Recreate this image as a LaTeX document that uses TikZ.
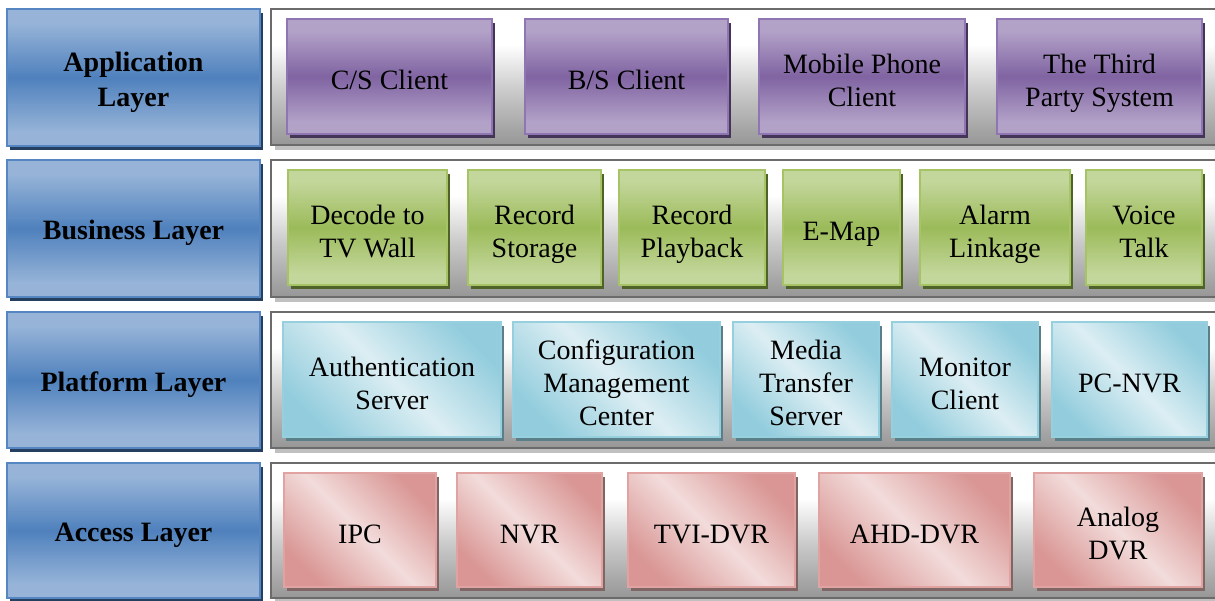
\documentclass[tikz,border=0pt]{standalone}
\usepackage{fontspec}
\setmainfont{Liberation Serif}
\usetikzlibrary{shadows}
\definecolor{laylight}{HTML}{97B4D8}
\definecolor{laydark}{HTML}{4F81BD}
\definecolor{layborder}{HTML}{5686C1}
\definecolor{layshadow}{HTML}{243F60}
\definecolor{purlight}{HTML}{B3A2C8}
\definecolor{purdark}{HTML}{8064A2}
\definecolor{purborder}{HTML}{8F75B2}
\definecolor{purshadow}{HTML}{433458}
\definecolor{grnlight}{HTML}{C3D69B}
\definecolor{grndark}{HTML}{9BBB59}
\definecolor{grnborder}{HTML}{A6C465}
\definecolor{grnshadow}{HTML}{4F6228}
\definecolor{cyalight}{HTML}{DCEEF3}
\definecolor{cyadark}{HTML}{93CDDD}
\definecolor{cyaborder}{HTML}{96CFDE}
\definecolor{cyashadow}{HTML}{5B7F88}
\definecolor{pnklight}{HTML}{F2DCDB}
\definecolor{pnkdark}{HTML}{D99694}
\definecolor{pnkborder}{HTML}{E0A3A1}
\definecolor{pnkshadow}{HTML}{806565}
\definecolor{panbot}{HTML}{969696}
\definecolor{panmid}{HTML}{CACACA}
\definecolor{panborder}{HTML}{6B6B6B}
\definecolor{panshadow}{HTML}{C0C0C0}
\colorlet{glasslight}{laylight}
\colorlet{glassdark}{laydark}
\newcommand{\boxtop}{\rule{0pt}{18pt}}
\newcommand{\boxbot}{\rule[-5pt]{0pt}{5pt}}
\newcommand{\laytop}{\rule{0pt}{16pt}}
\pgfdeclareverticalshading[glasslight,glassdark]{glass}{100bp}{color(0bp)=(glasslight); color(30bp)=(glasslight); color(50bp)=(glassdark); color(70bp)=(glasslight); color(100bp)=(glasslight)}
\pgfdeclareverticalshading{panelsh}{100bp}{color(0bp)=(panbot); color(25bp)=(panbot); color(45bp)=(panmid); color(62bp)=(white); color(100bp)=(white)}
\tikzset{
  boxbase/.style={rectangle, inner sep=0pt, align=center, line width=1pt,
    font=\fontsize{14}{16.5}\selectfont},
  glassy/.style 2 args={/utils/exec={\colorlet{glasslight}{#1}\colorlet{glassdark}{#2}}, shading=glass},
  diag/.style 2 args={shading=axis, top color=#2, bottom color=#2, middle color=#1, shading angle=-45},
  layerbox/.style={boxbase, draw=layborder, glassy={laylight}{laydark},
    drop shadow={shadow xshift=1.5pt, shadow yshift=-2pt, fill=layshadow, opacity=1},
    font=\fontsize{14}{17.5}\selectfont\bfseries},
  panel/.style={rectangle, inner sep=0pt, draw=panborder, line width=1pt, shading=panelsh,
    drop shadow={shadow xshift=2pt, shadow yshift=-2.5pt, fill=panshadow, opacity=1}},
  appbox/.style={boxbase, draw=purborder, glassy={purlight}{purdark},
    drop shadow={shadow xshift=1.5pt, shadow yshift=-2pt, fill=purshadow, opacity=1}},
  busbox/.style={boxbase, draw=grnborder, glassy={grnlight}{grndark},
    drop shadow={shadow xshift=1.5pt, shadow yshift=-2pt, fill=grnshadow, opacity=1}},
  platbox/.style={boxbase, draw=cyaborder, diag={cyalight}{cyadark},
    drop shadow={shadow xshift=1.5pt, shadow yshift=-2pt, fill=cyashadow, opacity=1}},
  accbox/.style={boxbase, draw=pnkborder, diag={pnklight}{pnkdark},
    drop shadow={shadow xshift=1.5pt, shadow yshift=-2pt, fill=pnkshadow, opacity=1}},
}
\begin{document}
\begin{tikzpicture}[x=0.5pt, y=-0.5pt]
\useasboundingbox (0,0) rectangle (1215,600);
% left layer labels
\node[layerbox, minimum width=126.5pt, minimum height=68.5pt] (lapp) at (133.5,77.5) {\laytop Application\\Layer\boxbot};
\node[layerbox, minimum width=126.5pt, minimum height=68.5pt] (lbus) at (133.5,228.5) {\laytop Business Layer\boxbot};
\node[layerbox, minimum width=126.5pt, minimum height=68pt] (lplat) at (133.5,380) {\laytop Platform Layer\boxbot};
\node[layerbox, minimum width=126.5pt, minimum height=67.5pt] (lacc) at (133.5,530.5) {\laytop Access Layer\boxbot};
% panels
\node[panel, minimum width=475.5pt, minimum height=68pt] (papp) at (746.5,77) {};
\node[panel, minimum width=475.5pt, minimum height=68.5pt] (pbus) at (746.5,228.5) {};
\node[panel, minimum width=475.5pt, minimum height=68pt] (pplat) at (746.5,380) {};
\node[panel, minimum width=475.5pt, minimum height=67.5pt] (pacc) at (746.5,530.5) {};
% application layer
\node[appbox, minimum width=102.5pt, minimum height=57.5pt] (cs) at (389.5,76.5) {\boxtop C/S Client\boxbot};
\node[appbox, minimum width=101.5pt, minimum height=57.5pt] (bs) at (626.5,76.5) {\boxtop B/S Client\boxbot};
\node[appbox, minimum width=103pt, minimum height=57.5pt] (mob) at (862,76.5) {\boxtop Mobile Phone\\Client\boxbot};
\node[appbox, minimum width=102.5pt, minimum height=57.5pt] (third) at (1099.5,76.5) {\boxtop The Third\\Party System\boxbot};
% business layer
\node[busbox, minimum width=79.5pt, minimum height=57.5pt] (dec) at (367.5,227.5) {\boxtop Decode to\\TV Wall\boxbot};
\node[busbox, minimum width=66.5pt, minimum height=57.5pt] (rs) at (534.5,227.5) {\boxtop Record\\Storage\boxbot};
\node[busbox, minimum width=73pt, minimum height=57.5pt] (rp) at (692,227.5) {\boxtop Record\\Playback\boxbot};
\node[busbox, minimum width=58.5pt, minimum height=57.5pt] (emap) at (841.5,227.5) {\boxtop E-Map\boxbot};
\node[busbox, minimum width=75pt, minimum height=57.5pt] (alarm) at (995,227.5) {\boxtop Alarm\\Linkage\boxbot};
\node[busbox, minimum width=58pt, minimum height=57.5pt] (voice) at (1144,227.5) {\boxtop Voice\\Talk\boxbot};
% platform layer
\node[platbox, minimum width=109pt, minimum height=57.5pt] (auth) at (392,379.5) {\boxtop Authentication\\Server\boxbot};
\node[platbox, minimum width=103.5pt, minimum height=57.5pt] (conf) at (616.5,379.5) {\boxtop Configuration\\Management\\Center\boxbot};
\node[platbox, minimum width=73pt, minimum height=57.5pt] (media) at (806,379.5) {\boxtop Media\\Transfer\\Server\boxbot};
\node[platbox, minimum width=73pt, minimum height=57.5pt] (mon) at (965,379.5) {\boxtop Monitor\\Client\boxbot};
\node[platbox, minimum width=77.5pt, minimum height=57.5pt] (pcnvr) at (1129.5,379.5) {\boxtop PC-NVR\boxbot};
% access layer
\node[accbox, minimum width=76pt, minimum height=57pt] (ipc) at (360,530) {\boxtop IPC\boxbot};
\node[accbox, minimum width=72.5pt, minimum height=57pt] (nvr) at (529.5,530) {\boxtop NVR\boxbot};
\node[accbox, minimum width=83.5pt, minimum height=57pt] (tvi) at (711.5,530) {\boxtop TVI-DVR\boxbot};
\node[accbox, minimum width=95.5pt, minimum height=57pt] (ahd) at (914.5,530) {\boxtop AHD-DVR\boxbot};
\node[accbox, minimum width=84pt, minimum height=57pt] (analog) at (1118,530) {\boxtop Analog\\DVR\boxbot};
\end{tikzpicture}
\end{document}
